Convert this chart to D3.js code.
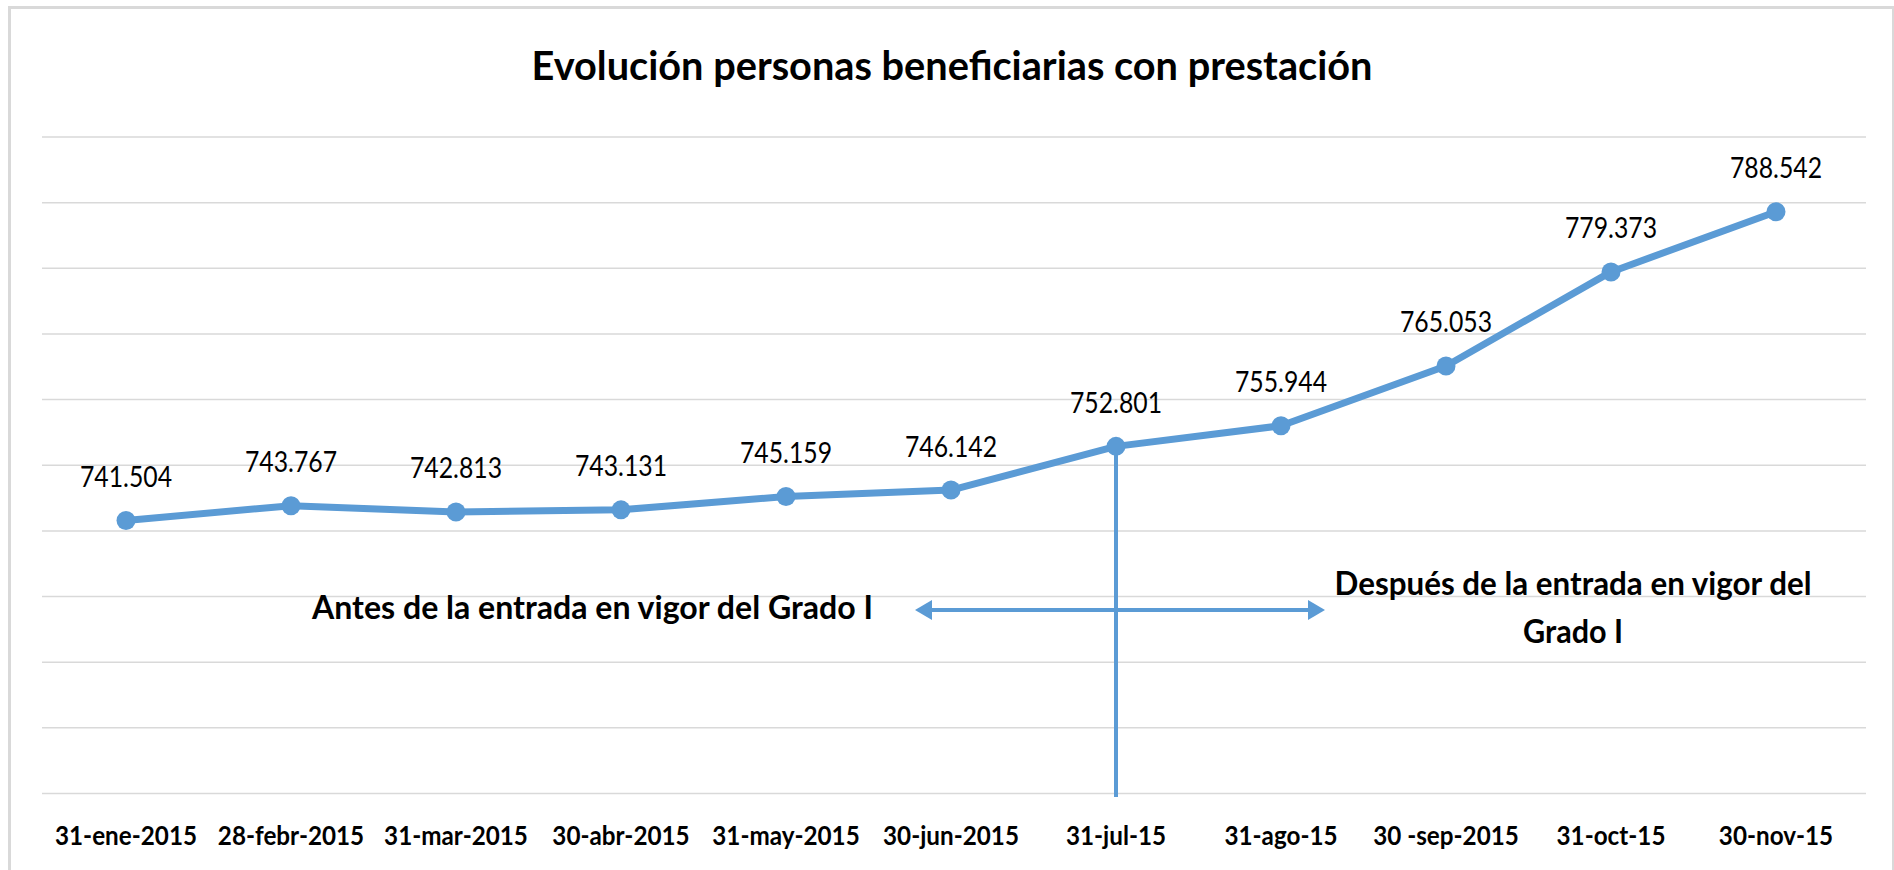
<!DOCTYPE html>
<html>
<head>
<meta charset="utf-8">
<script src="https://cdn.jsdelivr.net/npm/d3@7"></script>
<style>
  body { margin: 0; background: #fff; }
  svg { display: block; font-family: Lato, "Open Sans", sans-serif; }
</style>
</head>
<body>
<div id="chart"></div>
<script>
// data
const fechas = ["31-ene-2015", "28-febr-2015", "31-mar-2015", "30-abr-2015", "31-may-2015", "30-jun-2015",
                "31-jul-15", "31-ago-15", "30 -sep-2015", "31-oct-15", "30-nov-15"];
const beneficiarios = [741504, 743767, 742813, 743131, 745159, 746142, 752801, 755944, 765053, 779373, 788542];
const yDominio = [700000, 800000];
const titulo = "Evolución personas beneficiarias con prestación";
const notaAntes = "Antes de la entrada en vigor del Grado I";
const notaDespues = ["Después de la entrada en vigor del", "Grado I"];
const fechaCorte = "31-jul-15";

const width = 1894, height = 870;
const blue = "#5B9BD5", grid = "#d9d9d9";

// spanish number format 741.504
const es = d3.formatLocale({decimal: ",", thousands: ".", grouping: [3], currency: ["", " €"]});
const fmt = es.format(",d");

const data = fechas.map((f, i) => ({fecha: f, valor: beneficiarios[i]}));

const svg = d3.select("#chart").append("svg")
  .attr("width", width)
  .attr("height", height);

// chart border
svg.append("rect")
  .attr("x", 9.5).attr("y", 7.5)
  .attr("width", 1884).attr("height", 880)
  .attr("fill", "none")
  .attr("stroke", grid)
  .attr("stroke-width", 3);

// scales
const x = d3.scaleBand().domain(fechas).range([43.5, 1858.5]);
const y = d3.scaleLinear().domain(yDominio).range([793, 136.5]);
const cx = d => x(d) + x.bandwidth() / 2;

// gridlines
const gridG = svg.append("g")
  .attr("transform", "translate(42,0)")
  .call(d3.axisLeft(y).ticks(10).tickSize(-(1866 - 42)).tickFormat(""));
gridG.select(".domain").remove();
gridG.selectAll("line").attr("stroke", grid).attr("stroke-width", 1.5);

// x axis labels
const xAxis = svg.append("g")
  .attr("transform", "translate(0,793)")
  .call(d3.axisBottom(x).tickSize(0));
xAxis.select(".domain").remove();
xAxis.selectAll("text")
  .attr("y", 52).attr("dy", 0)
  .attr("font-family", "Lato, sans-serif")
  .attr("font-size", 27)
  .attr("font-weight", 700)
  .attr("fill", "#000");

// vertical divider at the start of Grado I
const corte = data.find(d => d.fecha === fechaCorte);
svg.append("line")
  .attr("x1", cx(corte.fecha)).attr("x2", cx(corte.fecha))
  .attr("y1", y(corte.valor)).attr("y2", 797)
  .attr("stroke", blue).attr("stroke-width", 4);

// double arrow
const xv = cx(corte.fecha), ya = 610;
const xl = xv - 201, xr = xv + 209;
svg.append("line")
  .attr("x1", xl + 10).attr("x2", xr - 10)
  .attr("y1", ya).attr("y2", ya)
  .attr("stroke", blue).attr("stroke-width", 4);
svg.append("path")
  .attr("d", `M${xl},${ya} L${xl + 17},${ya - 10} L${xl + 17},${ya + 10} Z`)
  .attr("fill", blue);
svg.append("path")
  .attr("d", `M${xr},${ya} L${xr - 17},${ya - 10} L${xr - 17},${ya + 10} Z`)
  .attr("fill", blue);

// series line
const line = d3.line()
  .x(d => cx(d.fecha))
  .y(d => y(d.valor));

svg.append("path")
  .datum(data)
  .attr("d", line)
  .attr("fill", "none")
  .attr("stroke", blue)
  .attr("stroke-width", 7)
  .attr("stroke-linejoin", "round");

svg.selectAll(".punto")
  .data(data).enter()
  .append("circle")
  .attr("class", "punto")
  .attr("cx", d => cx(d.fecha))
  .attr("cy", d => y(d.valor))
  .attr("r", 9.5)
  .attr("fill", blue);

// value labels
const labels = svg.selectAll(".valor")
  .data(data).enter()
  .append("text")
  .attr("class", "valor")
  .attr("x", d => cx(d.fecha))
  .attr("y", d => y(d.valor) - 33.5)
  .attr("text-anchor", "middle")
  .attr("font-size", 28)
  .attr("fill", "#000")
  .text(d => fmt(d.valor));

// title
svg.append("text")
  .attr("class", "fit")
  .attr("data-w", 841)
  .attr("x", 952).attr("y", 80)
  .attr("text-anchor", "middle")
  .attr("font-size", 40)
  .attr("font-weight", 700)
  .text(titulo);

// annotations
svg.append("text")
  .attr("class", "fit")
  .attr("data-w", 561)
  .attr("x", 592.5).attr("y", 619)
  .attr("text-anchor", "middle")
  .attr("font-size", 33)
  .attr("font-weight", 700)
  .text(notaAntes);

svg.selectAll(".despues")
  .data(notaDespues).enter()
  .append("text")
  .attr("class", "fit")
  .attr("data-w", (d, i) => i === 0 ? 477 : 100)
  .attr("x", 1573)
  .attr("y", (d, i) => 595 + i * 48)
  .attr("text-anchor", "middle")
  .attr("font-size", 33)
  .attr("font-weight", 700)
  .text(d => d);

// squeeze texts horizontally to match the narrow original font
svg.selectAll(".fit").each(function() {
  this.setAttribute("lengthAdjust", "spacingAndGlyphs");
  this.setAttribute("textLength", this.getAttribute("data-w"));
});

const tickNodes = xAxis.selectAll("text").nodes();
const kTick = 142 / tickNodes[0].getComputedTextLength();
tickNodes.forEach(n => {
  const w = n.getComputedTextLength();
  n.setAttribute("lengthAdjust", "spacingAndGlyphs");
  n.setAttribute("textLength", w * kTick);
});

const labelNodes = labels.nodes();
const kLabel = 92 / labelNodes[0].getComputedTextLength();
labelNodes.forEach(n => {
  const w = n.getComputedTextLength();
  n.setAttribute("lengthAdjust", "spacingAndGlyphs");
  n.setAttribute("textLength", w * kLabel);
});
</script>
</body>
</html>
